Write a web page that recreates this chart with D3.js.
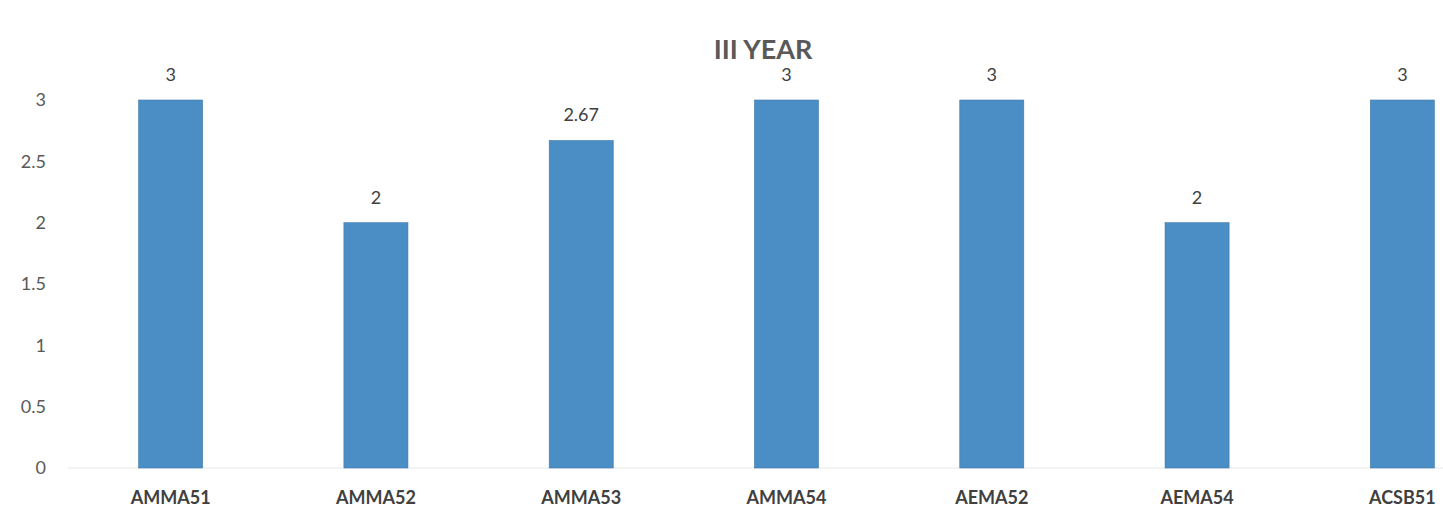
<!DOCTYPE html>
<html>
<head>
<meta charset="utf-8">
<script src="https://cdn.jsdelivr.net/npm/d3@7"></script>
<style>
  body { margin: 0; background: #fff; }
  text { font-family: Lato, "Open Sans", sans-serif; }
</style>
</head>
<body>
<div id="chart"></div>
<script>
// chart data
var categories = ['AMMA51', 'AMMA52', 'AMMA53', 'AMMA54', 'AEMA52', 'AEMA54', 'ACSB51'];
var values = [3, 2, 2.67, 3, 3, 2, 3];
var yTicks = [0, 0.5, 1, 1.5, 2, 2.5, 3];
var title = 'III YEAR';

var width = 1443,
    height = 507;

var svg = d3.select('#chart').append('svg')
    .attr('width', width)
    .attr('height', height);

// scales
var x = d3.scaleBand()
    .domain(categories)
    .range([68, 1505])
    .paddingInner(0.688)
    .paddingOuter(0.344);

var y = d3.scaleLinear()
    .domain([0, 3])
    .range([468, 100]);

// faint baseline
svg.append('line')
    .attr('x1', 68).attr('x2', width)
    .attr('y1', y(0)).attr('y2', y(0))
    .style('stroke', '#e8e8e8')
    .style('stroke-width', 1);

// y axis labels
var yAxis = d3.axisLeft(y)
    .tickValues(yTicks)
    .tickSize(0)
    .tickPadding(0)
    .tickFormat(function (d) { return d; });

var gy = svg.append('g')
    .attr('transform', 'translate(46,0)')
    .call(yAxis);
gy.select('.domain').remove();
gy.selectAll('text')
    .style('font-size', '18px')
    .style('fill', '#595959');

// x axis labels
var xAxis = d3.axisBottom(x).tickSize(0).tickPadding(0);
var gx = svg.append('g')
    .attr('transform', 'translate(0,487)')
    .call(xAxis);
gx.select('.domain').remove();
gx.selectAll('text')
    .attr('dy', '0.95em')
    .style('font-size', '18px')
    .style('font-weight', 'bold')
    .style('fill', '#404040');

// bars
svg.selectAll('rect.bar')
    .data(values)
    .enter()
    .append('rect')
    .attr('class', 'bar')
    .attr('x', function (d, i) { return x(categories[i]); })
    .attr('y', function (d) { return y(d); })
    .attr('width', x.bandwidth())
    .attr('height', function (d) { return y(0) - y(d); })
    .style('fill', '#4b8dc5')
    .style('stroke', '#3f79ab')
    .style('stroke-width', 0.6);

// value labels
svg.selectAll('text.val')
    .data(values)
    .enter()
    .append('text')
    .attr('class', 'val')
    .attr('x', function (d, i) { return x(categories[i]) + x.bandwidth() / 2; })
    .attr('y', function (d) { return y(d) - 19; })
    .attr('text-anchor', 'middle')
    .style('font-size', '18px')
    .style('fill', '#404040')
    .text(function (d) { return d; });

// title
svg.append('text')
    .attr('x', 763)
    .attr('y', 59)
    .attr('text-anchor', 'middle')
    .style('font-size', '27px')
    .style('font-weight', 'bold')
    .style('fill', '#595959')
    .text(title);
</script>
</body>
</html>
